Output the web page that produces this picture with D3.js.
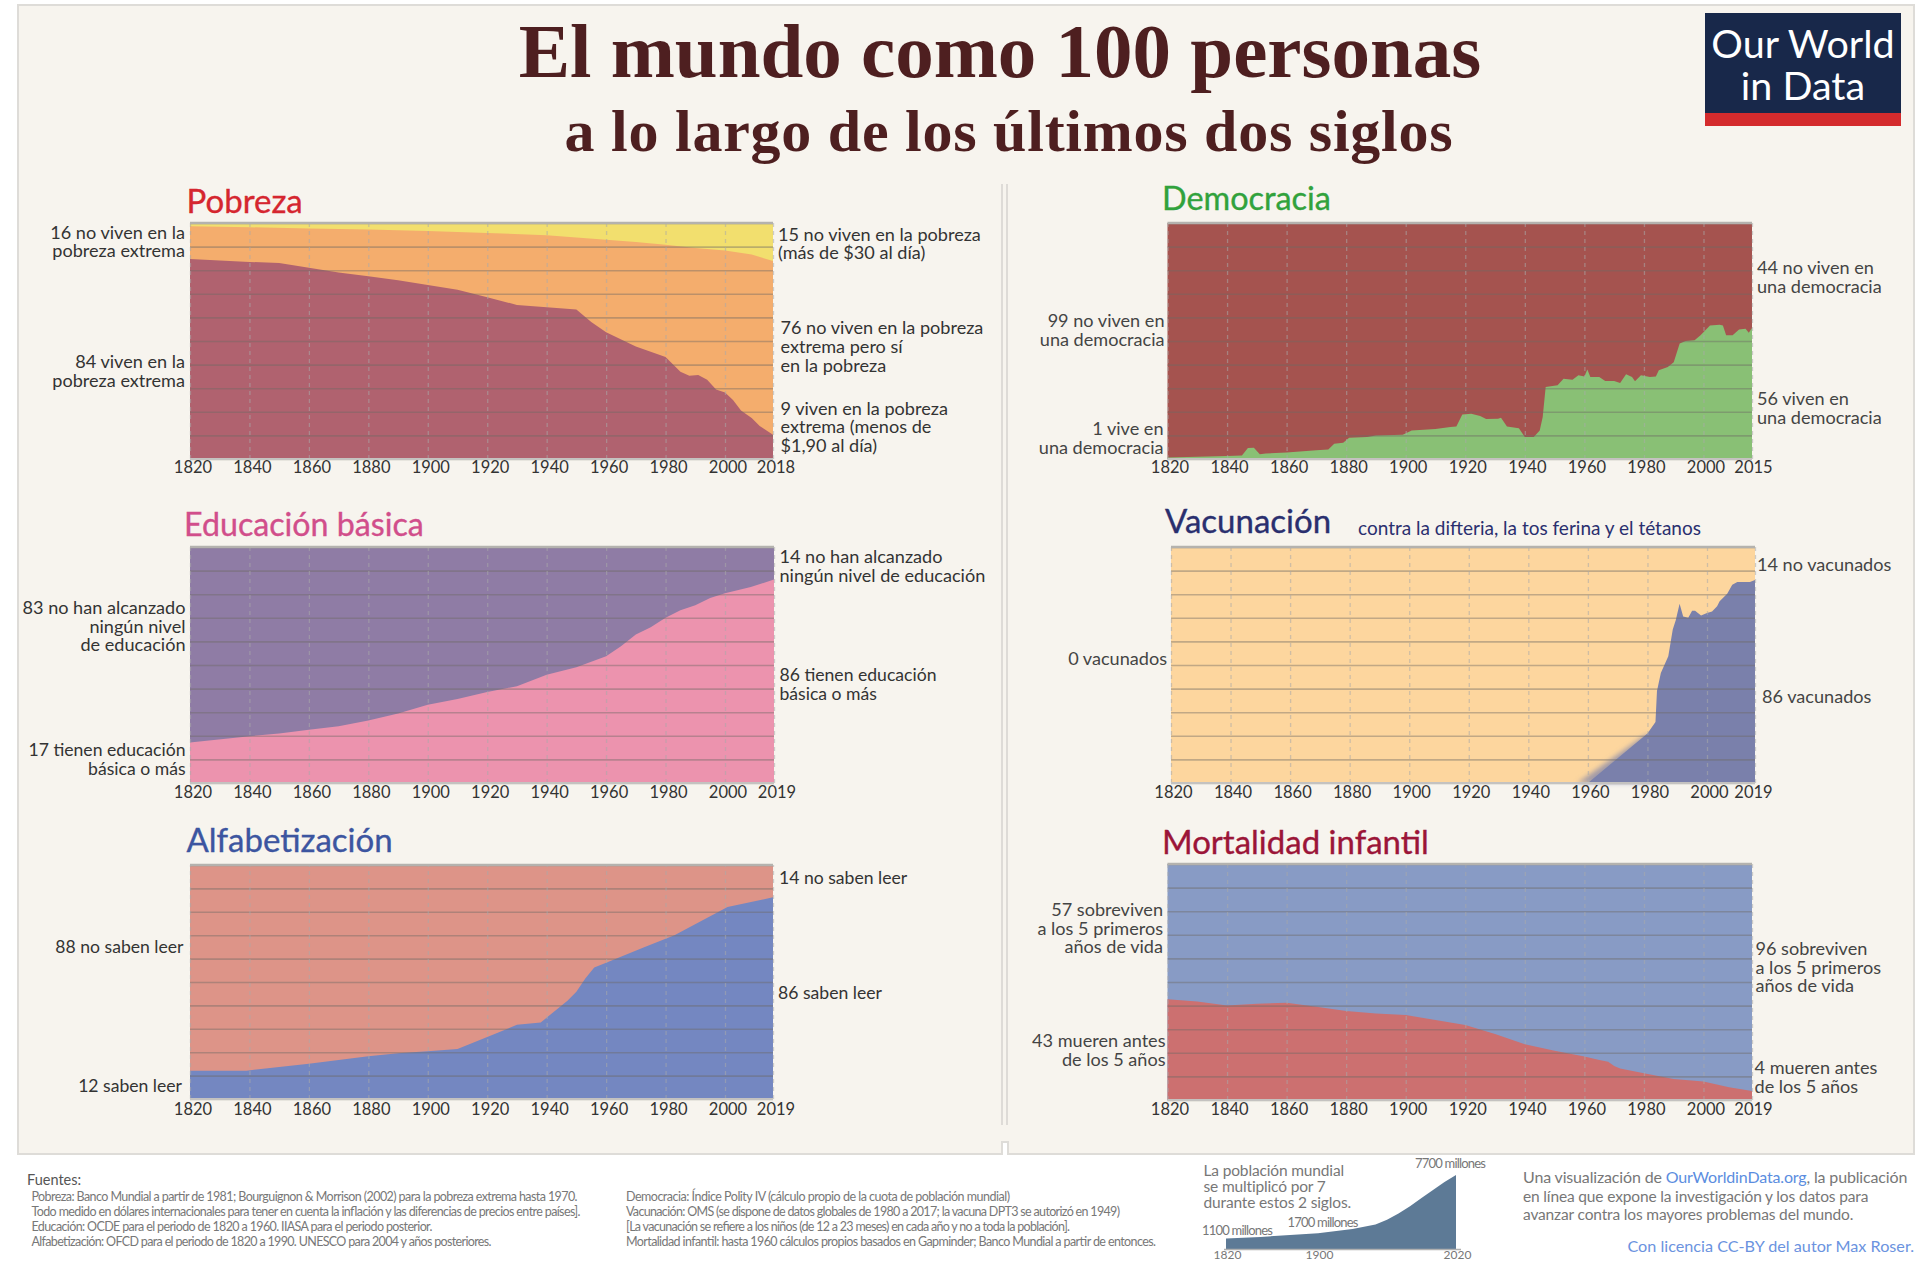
<!DOCTYPE html>
<html lang="es">
<head>
<meta charset="utf-8">
<title>El mundo como 100 personas</title>
<script src="https://cdn.jsdelivr.net/npm/d3@7"></script>
<style>
  html, body { margin: 0; background: #fff; }
  text { font-family: Lato, "Open Sans", sans-serif; }
  .tick text { font-size: 16.5px; fill: #333; }
  .note { font-size: 18.1px; }
  .noteSmall { font-size: 17.6px; }
</style>
</head>
<body>
<svg id="chart" width="1920" height="1270"></svg>
<script>
// values, in persons out of 100
var povertyYears = [1820, 1840, 1850, 1860, 1870, 1880, 1890, 1900, 1910, 1920, 1930, 1940, 1950, 1955, 1960, 1970, 1980, 1985, 1988, 1991, 1994, 1997, 2000, 2003, 2006, 2010, 2013, 2018];
var extremePoverty = [84.7, 83.5, 83, 81, 79, 77.4, 75.7, 73.7, 71.7, 68.5, 65.3, 64.3, 63.3, 58, 53.7, 47.7, 43.2, 37, 35.3, 35.6, 33.6, 29.4, 28.2, 25, 20.6, 17.4, 14, 10.3];
var belowHighLineYears = [1820, 1840, 1860, 1880, 1900, 1920, 1940, 1960, 1970, 1980, 1990, 2000, 2010, 2018];
var belowHighLine = [98.6, 98.2, 97.7, 97.2, 96.6, 95.8, 94.8, 92.9, 92, 90.8, 89.4, 88.4, 86.6, 83.9];

var democracyYears = [1820, 1840, 1845, 1847, 1849, 1851, 1853, 1860, 1870, 1874, 1876, 1879, 1881, 1887, 1890, 1899, 1902, 1910, 1915, 1917, 1919, 1922, 1925, 1927, 1931, 1932, 1934, 1938, 1940, 1943, 1945, 1946, 1947, 1951, 1953, 1956, 1958, 1960, 1961, 1962, 1965, 1967, 1970, 1972, 1974, 1976, 1977, 1979, 1982, 1984, 1985, 1988, 1990, 1992, 1994, 1997, 1999, 2002, 2005, 2006, 2007, 2009, 2011, 2013, 2014, 2015];
var democracyShare = [0.6, 1.3, 1.5, 4.7, 4.8, 2, 2.3, 2.8, 3.7, 4, 6.5, 6.9, 9, 9.3, 10, 10.3, 12.1, 12.7, 13.6, 13.8, 18.9, 19.2, 18.2, 17, 17.1, 17.5, 13.8, 13, 9.3, 9.3, 12.1, 17.8, 30.5, 31.2, 34, 33.6, 35.5, 35, 37.9, 34.7, 34.7, 33, 33, 32.2, 35.9, 34.7, 32.9, 35.5, 34.7, 35, 37.6, 39, 41, 48.9, 50, 50.3, 52.4, 56.6, 56.9, 56.6, 52.4, 52.4, 54.9, 55.2, 53.5, 55.5];

var educationYears = [1820, 1840, 1850, 1860, 1870, 1880, 1890, 1900, 1910, 1920, 1930, 1940, 1950, 1960, 1965, 1970, 1975, 1980, 1985, 1990, 1995, 2000, 2010, 2019];
var basicEducation = [17.2, 19.8, 21, 22.6, 24, 26.5, 29.4, 33.2, 35.6, 38.6, 41, 45.9, 49, 53.7, 57.9, 62.9, 66, 70, 73.2, 75.3, 78.4, 80.4, 83, 86.2];

var vaccineYears = [1820, 1960, 1970, 1980, 1982.7, 1983.2, 1984.5, 1987, 1988.5, 1989.5, 1990.8, 1992, 1993.7, 1995, 1996, 1998, 2000, 2002, 2004, 2005, 2008, 2010, 2012, 2017, 2019];
var vaccinated = [0, 0, 10.5, 21, 25.8, 39, 46.6, 53.7, 65, 69, 76, 70.6, 70, 73, 73, 71, 72, 72.7, 74.9, 77, 80.2, 84, 85.2, 85.2, 86];
var vaccineFadeYears = [1956.5, 1979.5, 1981, 1981];
var vaccineFade = [0, 20.5, 20, 0];

var literacyYears = [1820, 1839, 1860, 1880, 1890, 1900, 1910, 1920, 1930, 1938, 1947, 1950, 1953, 1956, 1960, 1973, 1983, 2001, 2019];
var literate = [12.1, 12.1, 15.1, 18.3, 19.5, 20.4, 21.4, 26.5, 31.7, 32.7, 42, 45.8, 51.5, 56.2, 58.2, 65, 70, 82, 86.2];

var mortalityYears = [1820, 1830, 1840, 1850, 1860, 1870, 1880, 1890, 1900, 1910, 1920, 1930, 1940, 1950, 1960, 1965, 1968, 1970, 1972, 1980, 1990, 2000, 2010, 2019];
var childDeaths = [42.7, 41.7, 40, 40.8, 41.2, 39.5, 37.7, 36.7, 36, 33.9, 31.8, 28, 23.6, 20.9, 18.4, 17, 16.2, 14.4, 13.3, 11.3, 8.9, 7.8, 5.4, 3.8];

var populationYears = [1820, 1850, 1900, 1930, 1950, 1960, 1970, 1980, 1990, 2000, 2010, 2020];
var populationMillions = [1100, 1260, 1650, 2070, 2540, 3040, 3700, 4450, 5300, 6140, 6960, 7700];

var tickYears = [1820, 1840, 1860, 1880, 1900, 1920, 1940, 1960, 1980, 2000];
var gridValues = [0, 10, 20, 30, 40, 50, 60, 70, 80, 90, 100];
var populationTicks = [1820, 1900, 2020];

var sourcesLeft = [
    "Pobreza: Banco Mundial a partir de 1981; Bourguignon & Morrison (2002) para la pobreza extrema hasta 1970.",
    "Todo medido en dólares internacionales para tener en cuenta la inflación y las diferencias de precios entre países].",
    "Educación: OCDE para el periodo de 1820 a 1960. IIASA para el periodo posterior.",
    "Alfabetización: OFCD para el periodo de 1820 a 1990. UNESCO para 2004 y años posteriores."
];
var sourcesRight = [
    "Democracia: Índice Polity IV (cálculo propio de la cuota de población mundial)",
    "Vacunación: OMS (se dispone de datos globales de 1980 a 2017; la vacuna DPT3 se autorizó en 1949)",
    "[La vacunación se refiere a los niños (de 12 a 23 meses) en cada año y no a toda la población].",
    "Mortalidad infantil: hasta 1960 cálculos propios basados en Gapminder; Banco Mundial a partir de entonces."
];

var svg = d3.select("#chart");

/**
  * Put one or more lines of text on the chart.
  */
function addText(lines, x, baselines, anchor, color, cls) {
    lines.forEach(function (line, i) {
        svg.append("text")
            .attr("class", cls || "note")
            .attr("x", x)
            .attr("y", baselines[i])
            .attr("text-anchor", anchor)
            .attr("fill", color)
            .text(line);
    });
}

/**
  * Draw one stacked panel. Layers are painted back to front, each one filled down to zero.
  * The last stretch after 2000 is squeezed in the reference, hence the piecewise x scale.
  */
function drawPanel(p) {
    var x = d3.scaleLinear().domain([1820, 2000, p.endYear]).range([p.left, p.x2000, p.right]),
        y = d3.scaleLinear().domain([0, 100]).range([p.bottom, p.top]),
        area = d3.area()
            .x(function (d) { return x(d[0]); })
            .y0(y(0))
            .y1(function (d) { return y(d[1]); });

    svg.append("rect")
        .attr("x", p.left).attr("y", p.top)
        .attr("width", p.right - p.left).attr("height", p.bottom - p.top)
        .attr("fill", p.background);

    p.layers.forEach(function (layer) {
        svg.append("path")
            .datum(d3.zip(layer.years, layer.values))
            .attr("d", area)
            .attr("fill", layer.color)
            .attr("fill-opacity", layer.soft ? 0.7 : 1)
            .attr("filter", layer.soft ? "url(#softEdge)" : null);
    });

    // horizontal grid lines, one per 10 people
    svg.append("g")
        .attr("transform", "translate(" + p.left + ",0)")
        .call(d3.axisLeft(y).tickValues(gridValues).tickSize(-(p.right - p.left)).tickFormat(""))
        .call(function (g) {
            g.select(".domain").remove();
            g.selectAll("line").attr("stroke", "#6e6a64").attr("stroke-opacity", 0.42).attr("stroke-width", 1.6);
        });

    // vertical dashed lines
    svg.append("g")
        .attr("transform", "translate(0," + p.bottom + ")")
        .call(d3.axisBottom(x).tickValues(tickYears.concat([p.endYear])).tickSize(-(p.bottom - p.top)).tickFormat(""))
        .call(function (g) {
            g.select(".domain").remove();
            g.selectAll("line").attr("stroke", "#aaa").attr("stroke-opacity", 0.55)
                .attr("stroke-width", 1.3).attr("stroke-dasharray", "4,4");
        });

    svg.append("line").attr("x1", p.left).attr("x2", p.right).attr("y1", p.top).attr("y2", p.top)
        .attr("stroke", "#b4b2ae").attr("stroke-width", 2.5);
    svg.append("line").attr("x1", p.left).attr("x2", p.right).attr("y1", p.bottom).attr("y2", p.bottom)
        .attr("stroke", "#c4c2c0").attr("stroke-width", 2);

    // year labels sit a little to the right of their lines
    svg.append("g")
        .attr("transform", "translate(" + (p.left < 500 ? 2.5 : 2) + "," + (p.tickBase - 12) + ")")
        .call(d3.axisBottom(x).tickValues(tickYears.concat([p.endYear])).tickSize(0).tickPadding(0).tickFormat(d3.format("d")))
        .call(function (g) {
            g.select(".domain").remove();
            g.selectAll(".tick").filter(function (d) { return d === p.endYear; }).select("text").attr("dx", p.endShift || 0);
        });

    svg.append("text")
        .attr("x", p.titleX).attr("y", p.titleY)
        .attr("font-size", p.titleSize || 33).attr("fill", p.titleColor)
        .attr("stroke", p.titleColor).attr("stroke-width", 0.35)
        .text(p.title);
}

svg.append("defs").append("filter").attr("id", "softEdge")
    .attr("x", "-20%").attr("y", "-20%").attr("width", "140%").attr("height", "140%")
    .append("feGaussianBlur").attr("stdDeviation", 2.8);

// page card, with the small notch at the foot of the divider
svg.append("path")
    .attr("d", "M18,5H1914V1154H1008V1142H1002V1154H18Z")
    .attr("fill", "#f7f4ee").attr("stroke", "#dedcd8").attr("stroke-width", 2);
[1002, 1007].forEach(function (lineX) {
    svg.append("line").attr("x1", lineX).attr("x2", lineX).attr("y1", 184).attr("y2", 1125)
        .attr("stroke", "#d6d3cf").attr("stroke-width", 1.5);
});

svg.append("text").attr("x", 1000).attr("y", 77).attr("text-anchor", "middle")
    .attr("font-size", 77).attr("font-weight", "bold").attr("fill", "#4e1f20")
    .style("font-family", "'Liberation Serif', serif")
    .text("El mundo como 100 personas");
svg.append("text").attr("x", 1009).attr("y", 151).attr("text-anchor", "middle")
    .attr("font-size", 60).attr("font-weight", "bold").attr("fill", "#4e1f20")
    .style("font-family", "'Liberation Serif', serif").style("letter-spacing", "0.75px")
    .text("a lo largo de los últimos dos siglos");

// logo, both lines in one text element
svg.append("rect").attr("x", 1705).attr("y", 13).attr("width", 196).attr("height", 100).attr("fill", "#18284a");
svg.append("rect").attr("x", 1705).attr("y", 113).attr("width", 196).attr("height", 13).attr("fill", "#d42b2d");
var logo = svg.append("text").attr("text-anchor", "middle").attr("font-size", 39.5).attr("fill", "#fff");
logo.append("tspan").attr("x", 1803).attr("y", 58).text("Our World");
logo.append("tspan").attr("x", 1803).attr("y", 100).text("in Data");

drawPanel({
    title: "Pobreza", titleX: 186.5, titleY: 213, titleColor: "#d5262f",
    left: 190, right: 773, x2000: 725, top: 223, bottom: 459, tickBase: 473, endYear: 2018,
    background: "#f2df6e",
    layers: [
        {years: belowHighLineYears, values: belowHighLine, color: "#f4ad6d"},
        {years: povertyYears, values: extremePoverty, color: "#b0626f"}
    ]
});
drawPanel({
    title: "Democracia", titleX: 1162, titleY: 210, titleColor: "#31a23c", titleSize: 32.4,
    left: 1167.5, right: 1752, x2000: 1703.5, top: 223, bottom: 459, tickBase: 473, endYear: 2015, endShift: -1,
    background: "#a5534f",
    layers: [{years: democracyYears, values: democracyShare, color: "#89c075"}]
});
drawPanel({
    title: "Educación básica", titleX: 184, titleY: 536, titleColor: "#d14e8b", titleSize: 32.2,
    left: 190, right: 774, x2000: 725, top: 547, bottom: 783, tickBase: 798, endYear: 2019,
    background: "#8f7ca5",
    layers: [{years: educationYears, values: basicEducation, color: "#ec93ae"}]
});
drawPanel({
    title: "Vacunación", titleX: 1165, titleY: 533, titleColor: "#2a2f6e",
    left: 1171, right: 1755, x2000: 1707, top: 547, bottom: 783, tickBase: 798, endYear: 2019, endShift: -4,
    background: "#fdd69e",
    layers: [
        {years: vaccineFadeYears, values: vaccineFade, color: "#7a80ab", soft: true},
        {years: vaccineYears, values: vaccinated, color: "#7a80ab"}
    ]
});
drawPanel({
    title: "Alfabetización", titleX: 186.5, titleY: 852, titleColor: "#3c55a0",
    left: 190, right: 773, x2000: 725, top: 865, bottom: 1099, tickBase: 1115, endYear: 2019,
    background: "#dd9488",
    layers: [{years: literacyYears, values: literate, color: "#7487c1"}]
});
drawPanel({
    title: "Mortalidad infantil", titleX: 1162, titleY: 854, titleColor: "#9b1538",
    left: 1167.5, right: 1752, x2000: 1703.5, top: 864, bottom: 1100, tickBase: 1115, endYear: 2019, endShift: -1,
    background: "#889bc5",
    layers: [{years: mortalityYears, values: childDeaths, color: "#cc7070"}]
});

svg.append("text").attr("x", 1358).attr("y", 535).attr("font-size", 19).attr("fill", "#2a2f6e")
    .text("contra la difteria, la tos ferina y el tétanos");

// panel notes
addText(["16 no viven en la", "pobreza extrema"], 185, [238.7, 257], "end", "#333");
addText(["84 viven en la", "pobreza extrema"], 185, [367.7, 386.7], "end", "#333");
addText(["15 no viven en la pobreza", "(más de $30 al día)"], 778, [240.7, 259], "start", "#333");
addText(["76 no viven en la pobreza", "extrema pero sí", "en la pobreza"], 780.5, [334, 353, 371.7], "start", "#333");
addText(["9 viven en la pobreza", "extrema (menos de", "$1,90 al día)"], 780.5, [414.7, 433, 452], "start", "#333");

addText(["99 no viven en", "una democracia"], 1164.5, [326.7, 345.7], "end", "#444");
addText(["1 vive en", "una democracia"], 1163.5, [435, 454], "end", "#444");
addText(["44 no viven en", "una democracia"], 1757, [274, 292.7], "start", "#444");
addText(["56 viven en", "una democracia"], 1757, [405, 424], "start", "#444");

addText(["83 no han alcanzado", "ningún nivel", "de educación"], 185.5, [614, 632.7, 651.3], "end", "#333");
addText(["17 tienen educación", "básica o más"], 185.5, [756, 775], "end", "#333", "noteSmall");
addText(["14 no han alcanzado", "ningún nivel de educación"], 779.5, [563, 582], "start", "#333");
addText(["86 tienen educación", "básica o más"], 779.5, [681, 700], "start", "#333", "noteSmall");

addText(["0 vacunados"], 1167, [665.3], "end", "#444");
addText(["14 no vacunados"], 1757, [570.7], "start", "#444");
addText(["86 vacunados"], 1762, [702.7], "start", "#444");

addText(["88 no saben leer"], 183.5, [953], "end", "#333", "noteSmall");
addText(["12 saben leer"], 182, [1091.7], "end", "#333", "noteSmall");
addText(["14 no saben leer"], 779, [883.7], "start", "#333", "noteSmall");
addText(["86 saben leer"], 778, [999], "start", "#333", "noteSmall");

addText(["57 sobreviven", "a los 5 primeros", "años de vida"], 1163, [916, 934.7, 953.3], "end", "#444");
addText(["43 mueren antes", "de los 5 años"], 1165.5, [1046.7, 1065.7], "end", "#444");
addText(["96 sobreviven", "a los 5 primeros", "años de vida"], 1755.5, [955, 973.7, 992.3], "start", "#444");
addText(["4 mueren antes", "de los 5 años"], 1754.5, [1074, 1093], "start", "#444");

// sources, each line squeezed to its width in the reference
addText(["Fuentes:"], 27, [1185], "start", "#555", "sourceHead");
svg.selectAll(".sourceHead").attr("font-size", 14.5);
addText(sourcesLeft, 31.5, [1201, 1216, 1231, 1246], "start", "#777", "sourceLeft");
addText(sourcesRight, 626, [1201, 1216, 1231, 1246], "start", "#777", "sourceRight");
svg.selectAll(".sourceLeft").attr("font-size", 12.5)
    .attr("textLength", function (d, i) { return [546, 549, 401, 460][i]; });
svg.selectAll(".sourceRight").attr("font-size", 12.5)
    .attr("textLength", function (d, i) { return [384, 494, 444, 530][i]; });

// small population chart
(function drawPopulation() {
    var x = d3.scaleLinear().domain([1820, 2020]).range([1226, 1456]),
        y = d3.scaleLinear().domain([0, 7700]).range([1249, 1175]),
        area = d3.area()
            .x(function (d) { return x(d[0]); })
            .y0(y(0))
            .y1(function (d) { return y(d[1]); });
    svg.append("path")
        .datum(d3.zip(populationYears, populationMillions))
        .attr("d", area)
        .attr("fill", "#5d7a96");
    svg.append("line").attr("x1", 1224).attr("x2", 1461).attr("y1", 1249.5).attr("y2", 1249.5)
        .attr("stroke", "#b0b0b0").attr("stroke-width", 1.5);
    svg.append("g")
        .attr("class", "popAxis")
        .attr("transform", "translate(1,1250)")
        .call(d3.axisBottom(x).tickValues(populationTicks).tickSize(0).tickPadding(0).tickFormat(d3.format("d")))
        .call(function (g) {
            g.select(".domain").remove();
            g.selectAll("text").style("font-size", "12px").style("fill", "#777");
        });
}());
addText(["La población mundial", "se multiplicó por 7", "durante estos 2 siglos."], 1203.5, [1176, 1192, 1208], "start", "#777", "popNote");
svg.selectAll(".popNote").attr("font-size", 15.5).style("letter-spacing", "-0.15px");
addText(["7700 millones"], 1415, [1168], "start", "#777", "popLabel");
addText(["1700 millones"], 1287.5, [1227], "start", "#777", "popLabel");
addText(["1100 millones"], 1202, [1235], "start", "#777", "popLabel");
svg.selectAll(".popLabel").attr("font-size", 13).style("letter-spacing", "-0.8px");

// credit block
var credit = svg.append("text").attr("x", 1523).attr("y", 1183).attr("font-size", 16).attr("fill", "#777").style("letter-spacing", "-0.15px");
credit.append("tspan").text("Una visualización de ");
credit.append("tspan").attr("fill", "#5b8de0").text("OurWorldinData.org");
credit.append("tspan").text(", la publicación");
addText(["en línea que expone la investigación y los datos para", "avanzar contra los mayores problemas del mundo."], 1523, [1202, 1220], "start", "#777", "creditLine");
svg.selectAll(".creditLine").attr("font-size", 15.5).style("letter-spacing", "-0.15px");
addText(["Con licencia CC-BY del autor Max Roser."], 1914, [1252], "end", "#6b93e0", "licence");
svg.selectAll(".licence").attr("font-size", 16.2);
</script>
</body>
</html>
